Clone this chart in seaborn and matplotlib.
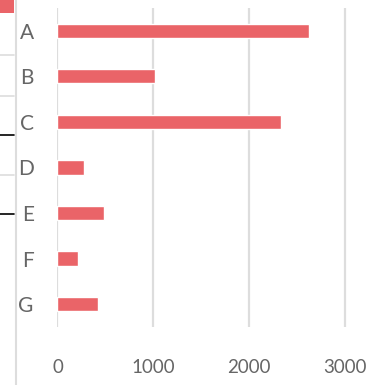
import matplotlib
matplotlib.use("Agg")
import matplotlib.pyplot as plt
import seaborn as sns
import pandas as pd
from matplotlib.lines import Line2D
from matplotlib.patches import Rectangle

categories = ["A", "B", "C", "D", "E", "F", "G"]
values = [2625, 1020, 2330, 280, 485, 215, 420]
x_ticks = [0, 1000, 2000, 3000]

df = pd.DataFrame({"category": categories, "value": values})

sns.set_style("white")
plt.rcParams["font.family"] = ["Lato", "DejaVu Sans"]

fig = plt.figure(figsize=(3.78, 3.85), dpi=100)
ax = fig.add_axes([0.152, 0.151, 0.786, 0.828])

sns.barplot(data=df, x="value", y="category", orient="h", color="#EA6468",
            saturation=1, width=0.31, ax=ax)

ax.set_xlim(0, 3100)
ax.set_ylim(6.5, -0.5)
ax.set_xticks(x_ticks)
ax.set_xticklabels([str(t) for t in x_ticks])
ax.grid(axis="x", color="#dddddd", linewidth=1.6)
ax.set_axisbelow(True)
for s in ax.spines.values():
    s.set_visible(False)
ax.set_xlabel("")
ax.set_ylabel("")
ax.tick_params(axis="x", length=0, pad=23, labelsize=13.5, labelcolor="#666666")
ax.tick_params(axis="y", length=0, pad=17, labelsize=15, labelcolor="#666666")

# fragments of the surrounding dashboard on the left edge
W, H = 378, 385
fig.add_artist(Line2D([15.5 / W, 15.5 / W], [0, 1], color="#dddddd", lw=1.5))
fig.add_artist(Rectangle((0, 1 - 13 / H), 14 / W, 13 / H, color="#EA6468", lw=0))
for y in [55, 96, 175]:
    fig.add_artist(Line2D([0, 14 / W], [1 - y / H] * 2, color="#dddddd", lw=1.2))
for y in [135, 214]:
    fig.add_artist(Line2D([0, 14 / W], [1 - y / H] * 2, color="black", lw=1.2))

fig.savefig("out.png", dpi=100)
